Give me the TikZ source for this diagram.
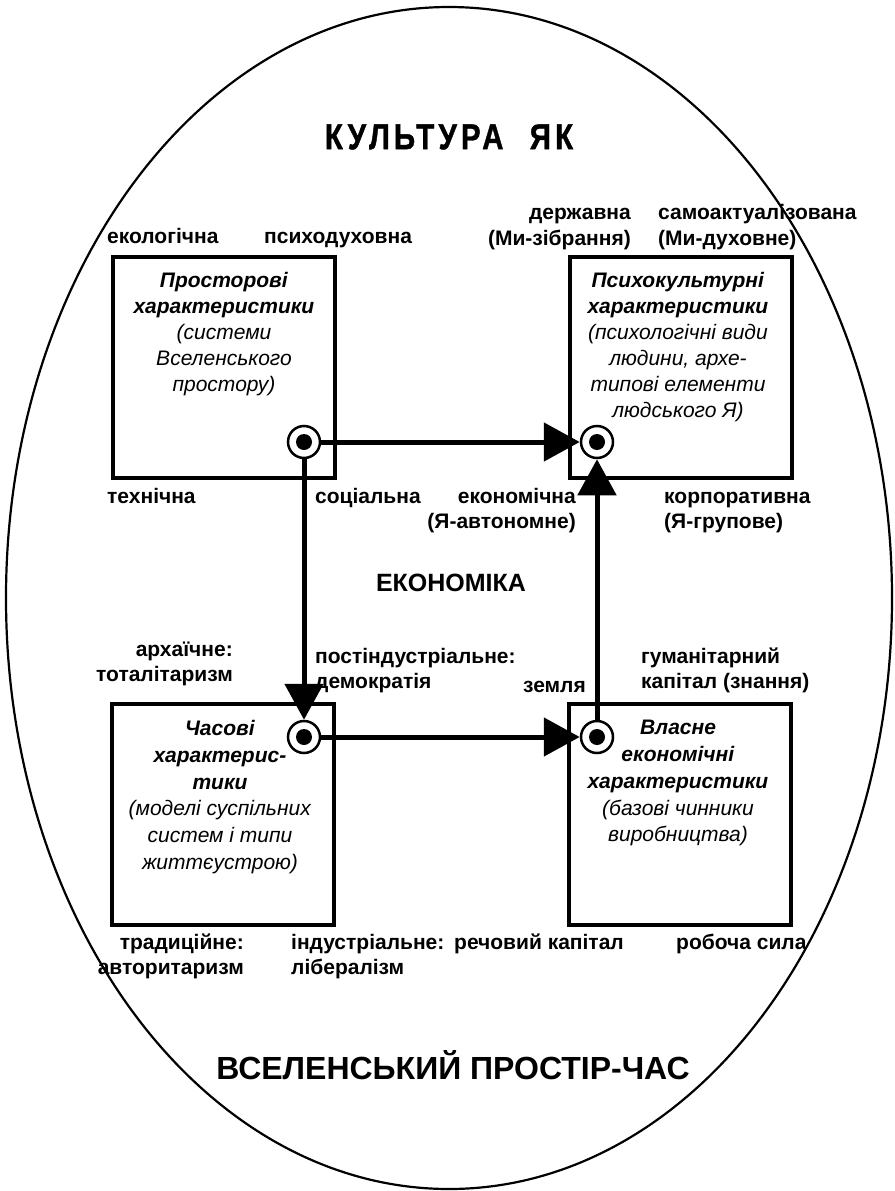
\documentclass[tikz,border=0pt]{standalone}
\usepackage{fontspec}
\setmainfont{Liberation Sans}
\usetikzlibrary{arrows.meta}
\begin{document}
\begin{tikzpicture}[x=1pt,y=-1pt,
  frame/.style={draw, line width=4.5pt, minimum width=222pt, minimum height=221pt, inner sep=0pt},
  boxtext/.style={anchor=north, align=center, inner sep=0pt, font=\fontsize{21}{26}\selectfont},
  lbl/.style={inner sep=0pt, font=\fontsize{21}{25.5}\selectfont\bfseries},
  lw/.style={lbl, anchor=base west},
  le/.style={lbl, anchor=base east},
  hub/.style={circle, draw, line width=2.5pt, fill=white, minimum size=32pt, inner sep=0pt},
  link/.style={line width=5pt, -{Triangle[length=36pt,width=38pt]}}
]
\useasboundingbox (0,0) rectangle (894,1191);

% outer oval
\draw[line width=2.2pt] (449,598) ellipse [x radius=443pt, y radius=591pt];

% four characteristic boxes
\node[frame] (space)  at (224,367.5) {};
\node[frame] (psyche) at (681,367.5) {};
\node[frame] (time)   at (223,814.5) {};
\node[frame] (econ)   at (680,814.5) {};

\node[boxtext] (spacetxt) at (224,272) {\textbf{\textit{Просторові}}\\\textbf{\textit{характеристики}}\\\textit{(системи}\\\textit{Вселенського}\\\textit{простору)}};
\node[boxtext] (psychetxt) at (678,272) {\textbf{\textit{Психокультурні}}\\\textbf{\textit{характеристики}}\\\textit{(психологічні види}\\\textit{людини, архе-}\\\textit{типові елементи}\\\textit{людського Я)}};
\node[boxtext, font=\fontsize{21}{26.8}\selectfont] (timetxt) at (220,720) {\textbf{\textit{Часові}}\\\textbf{\textit{характерис-}}\\\textbf{\textit{тики}}\\\textit{(моделі суспільних}\\\textit{систем і типи}\\\textit{життєустрою)}};
\node[boxtext, font=\fontsize{21}{26.8}\selectfont] (econtxt) at (678,720) {\textbf{\textit{Власне}}\\\textbf{\textit{економічні}}\\\textbf{\textit{характеристики}}\\\textit{(базові чинники}\\\textit{виробництва)}};

% headings
\node[inner sep=0pt] (culture) at (449,137) {\fontsize{36}{38}\selectfont\bfseries\addfontfeature{LetterSpace=14,FakeBold=1.2}\scalebox{0.82}[1]{КУЛЬТУРА\hspace{32pt}ЯК}};
\node[inner sep=0pt, font=\fontsize{25}{28}\selectfont\bfseries] (economy) at (451,583) {ЕКОНОМІКА};
\node[inner sep=0pt, font=\fontsize{32}{34}\selectfont\bfseries] (universe) at (453,1065) {ВСЕЛЕНСЬКИЙ ПРОСТІР-ЧАС};

% labels round the upper boxes
\node[lw] (eco)   at (107,243) {екологічна};
\node[lw] (psy)   at (264,243) {психодуховна};
\node[le] (st1)   at (631,219) {державна};
\node[le] (st2)   at (631,245) {(Ми-зібрання)};
\node[lw] (sa1)   at (658,219) {самоактуалізована};
\node[lw] (sa2)   at (658,245) {(Ми-духовне)};
\node[lw] (tech)  at (107,503) {технічна};
\node[lw] (soc)   at (315,503) {соціальна};
\node[le] (ec1)   at (576,503) {економічна};
\node[le] (ec2)   at (576,528) {(Я-автономне)};
\node[lw] (co1)   at (664,503) {корпоративна};
\node[lw] (co2)   at (664,528) {(Я-групове)};

% labels round the lower boxes
\node[le] (ar1)   at (233,656) {архаїчне:};
\node[le] (ar2)   at (233,681) {тоталітаризм};
\node[lw] (pi1)   at (315,663) {постіндустріальне:};
\node[lw] (pi2)   at (315,688) {демократія};
\node[le] (land)  at (586,692) {земля};
\node[lw] (hu1)   at (641,663) {гуманітарний};
\node[lw] (hu2)   at (641,688) {капітал (знання)};
\node[le] (tr1)   at (244,949) {традиційне:};
\node[le] (tr2)   at (244,974) {авторитаризм};
\node[lw] (in1)   at (291,949) {індустріальне:};
\node[lw] (in2)   at (291,974) {лібералізм};
\node[lw] (cap)   at (454,949) {речовий капітал};
\node[lw] (work)  at (676,949) {робоча сила};

% hubs and connecting arrows
\node[hub] (h1) at (304,442) {};
\node[hub] (h2) at (597,442) {};
\node[hub] (h3) at (304,737) {};
\node[hub] (h4) at (597,737) {};
\foreach \h in {h1,h2,h3,h4} \fill (\h.center) circle [radius=8pt];

\draw[link] (h1) -- (h2);
\draw[link] (h1) -- (h3);
\draw[link] (h3) -- (h4);
\draw[link] (h4) -- (h2);
\end{tikzpicture}
\end{document}
